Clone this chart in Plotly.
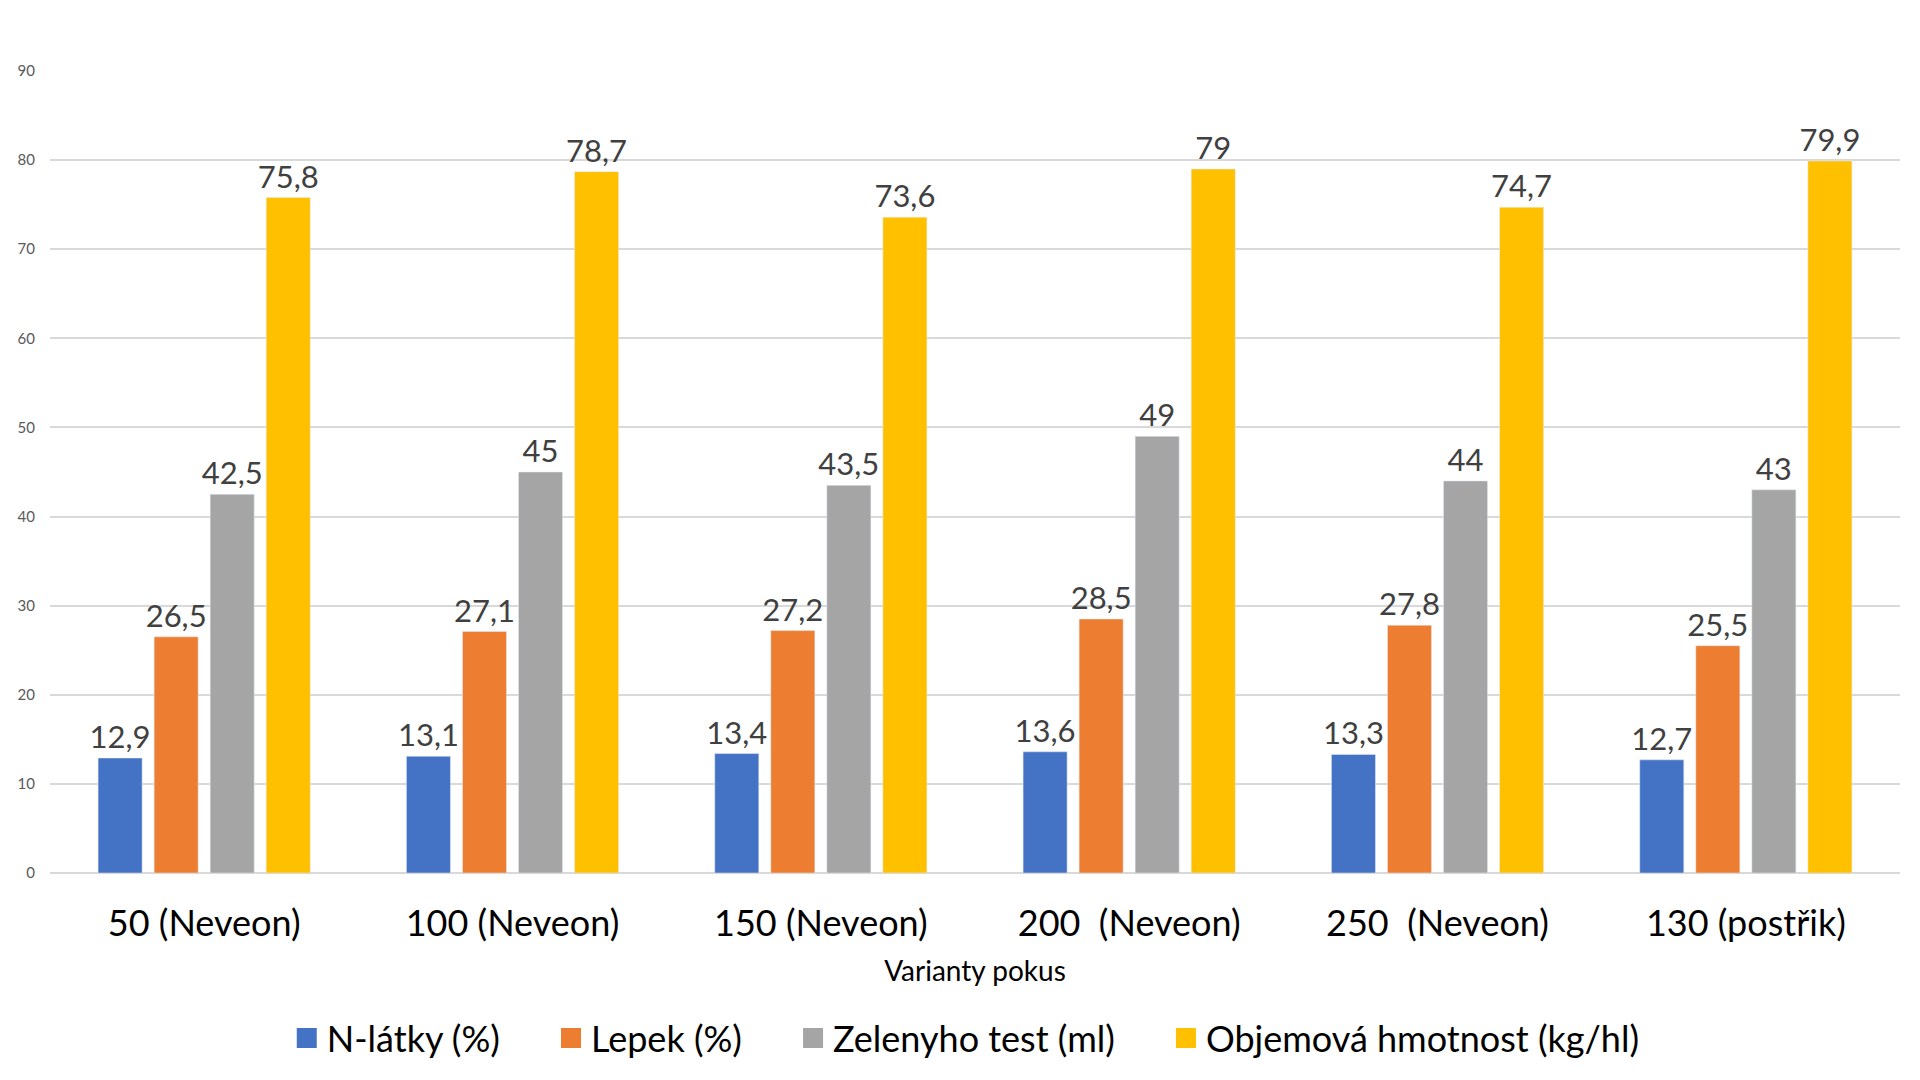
import plotly.graph_objects as go

categories = ["50 (Neveon)", "100 (Neveon)", "150 (Neveon)",
              "200\u00a0 (Neveon)", "250\u00a0 (Neveon)", "130 (postřik)"]
series_names = ["N-látky (%)", "Lepek (%)", "Zelenyho test (ml)", "Objemová hmotnost (kg/hl)"]
n_latky = [12.9, 13.1, 13.4, 13.6, 13.3, 12.7]
lepek = [26.5, 27.1, 27.2, 28.5, 27.8, 25.5]
zelenyho = [42.5, 45, 43.5, 49, 44, 43]
objemova = [75.8, 78.7, 73.6, 79, 74.7, 79.9]
colors = ["#4472C4", "#ED7D31", "#A5A5A5", "#FFC000"]
y_ticks = list(range(0, 91, 10))

FONT = "Lato"
PAD = "\u00a0" * 5


def fmt(v):
    return f"{v:g}".replace(".", ",")


fig = go.Figure()
for i, (name, vals, col) in enumerate(zip(series_names, [n_latky, lepek, zelenyho, objemova], colors)):
    fig.add_trace(go.Bar(
        x=categories, y=vals, name=name, marker_color=col,
        text=[fmt(v) for v in vals], textposition="outside",
        textfont=dict(family=FONT, size=31, color="#404040"),
        constraintext="none", cliponaxis=False, showlegend=False,
    ))
    fig.add_trace(go.Scatter(
        x=[None], y=[None], mode="markers",
        name=name + (PAD if i < len(series_names) - 1 else ""),
        marker=dict(symbol="square", size=16, color=col, line=dict(color=col, width=4)),
        showlegend=True,
    ))

fig.update_layout(
    width=1920, height=1080,
    paper_bgcolor="white", plot_bgcolor="white",
    margin=dict(l=50, r=20, t=71, b=204),
    barmode="group", bargap=0.273, bargroupgap=0.214,
    font=dict(family=FONT, color="#000000"),
    legend=dict(orientation="h", x=0.495, xanchor="center", y=-0.206, yanchor="middle",
                font=dict(family=FONT, size=36, color="#000000"),
                itemsizing="trace", traceorder="normal"),
)
fig.update_xaxes(
    showline=False, showgrid=False, zeroline=False,
    tickfont=dict(family=FONT, size=36, color="#000000"),
    ticks="", ticklabelstandoff=26,
    title=dict(text="Varianty pokus", font=dict(family=FONT, size=28, color="#000000"), standoff=18),
)
fig.update_yaxes(
    range=[0, 90], tickvals=y_ticks, ticktext=[str(t) for t in y_ticks],
    showgrid=True, gridcolor="#D9D9D9", gridwidth=1.5,
    zeroline=True, zerolinecolor="#D9D9D9", zerolinewidth=1.5,
    showline=False, ticks="", ticklabelstandoff=14,
    tickfont=dict(family=FONT, size=15, color="#595959"),
)

fig.write_html("out.html", config={"displayModeBar": False},
               post_script="document.body.style.margin='0';document.body.style.overflow='hidden';")
